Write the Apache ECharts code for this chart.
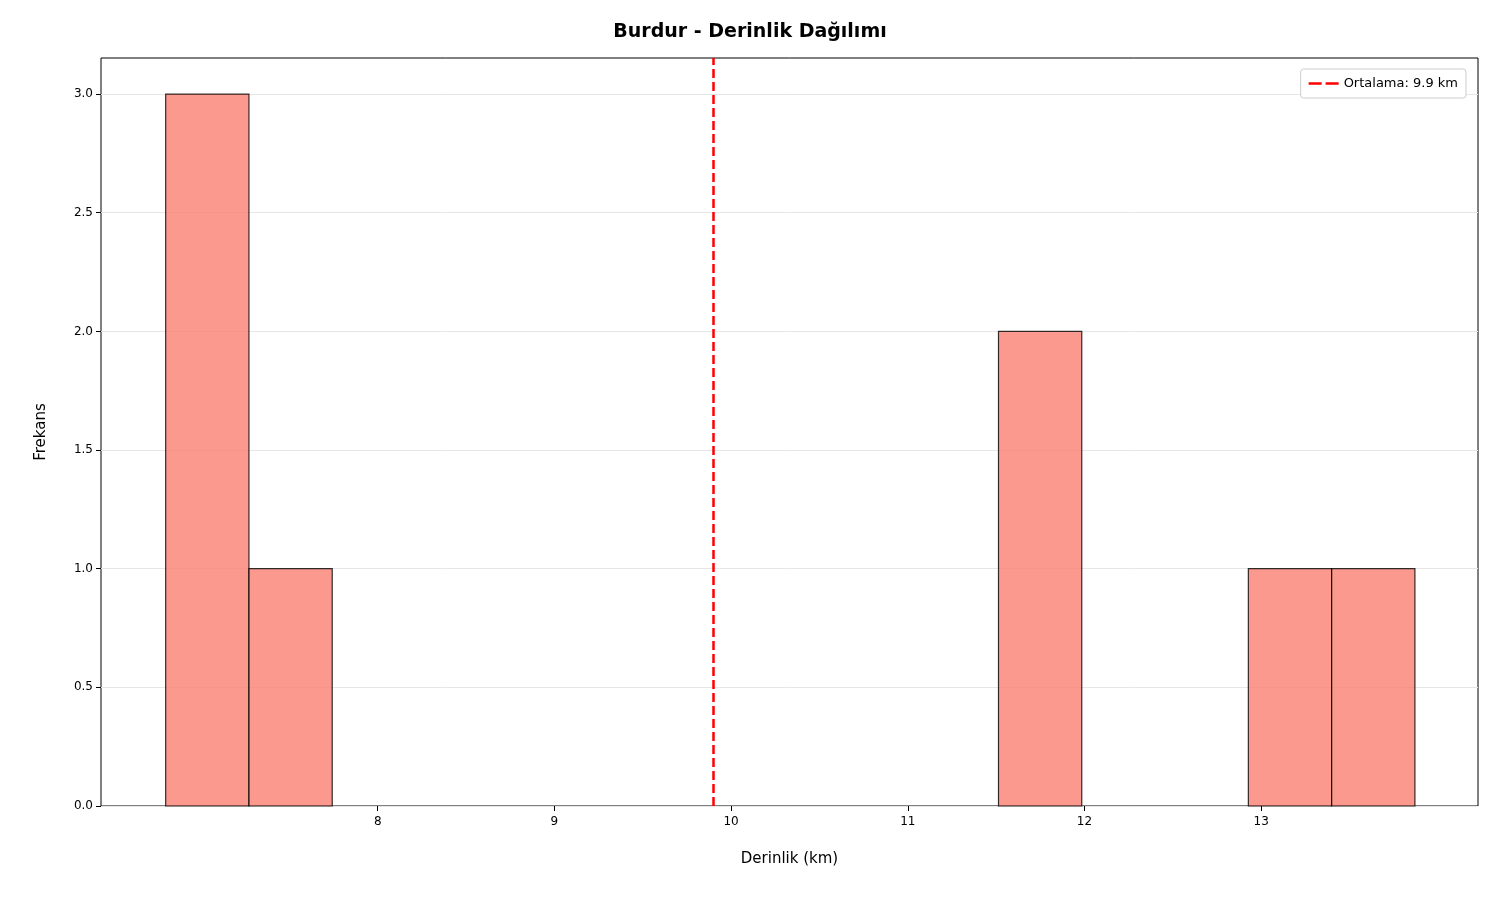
<!DOCTYPE html>
<html><head><meta charset="utf-8">
<script src="https://cdn.jsdelivr.net/npm/echarts@6/dist/echarts.min.js"></script>
<style>html,body{margin:0;padding:0;background:#fff}#c{width:1500px;height:900px}</style>
</head><body><div id="c"></div>
<script>
const binStarts = [6.8, 7.2713, 11.5133, 12.9273, 13.3987];
const binWidth = 0.4713;
const counts = [3, 1, 2, 1, 1];
const meanDepth = 9.9;
const xTicks = [7, 8, 9, 10, 11, 12, 13, 14];
const yTicks = [0, 0.5, 1, 1.5, 2, 2.5, 3];

const data = binStarts.map((s, i) => [s, s + binWidth, counts[i]]);
const chart = echarts.init(document.getElementById('c'));
const font = 'DejaVu Sans';
chart.setOption({
  animation: false,
  textStyle: {fontFamily: font},
  title: {text: 'Burdur - Derinlik Dağılımı', left: 'center', top: 18,
    textStyle: {fontFamily: font, fontSize: 19, fontWeight: 'bold', color: '#000'}},
  grid: {left: 101, right: 22, top: 58, bottom: 94, show: true, borderColor: '#000', borderWidth: 1},
  legend: {right: 34, top: 69, orient: 'vertical', backgroundColor: '#fff', borderColor: '#ccc', borderWidth: 1, borderRadius: 3,
    padding: [8, 8], itemWidth: 30, itemHeight: 10,
    textStyle: {fontFamily: font, fontSize: 13, color: '#000'},
    data: [{name: 'Ortalama: 9.9 km', icon: 'path://M0,4 L10,4 L10,6 L0,6 Z M13,4 L23,4 L23,6 L13,6 Z'}]},
  xAxis: {type: 'value', min: 6.434, max: 14.227, interval: 1,
    name: 'Derinlik (km)', nameLocation: 'middle', nameGap: 46,
    nameTextStyle: {fontSize: 15, color: '#000'},
    axisLine: {show: false}, splitLine: {show: false},
    axisTick: {show: true, length: 5, lineStyle: {color: '#000'}},
    axisLabel: {color: '#000', fontSize: 12, margin: 10, showMinLabel: false, showMaxLabel: false,
      customValues: xTicks},
    axisTick: {show: true, length: 5, lineStyle: {color: '#000'}, customValues: xTicks}},
  yAxis: {type: 'value', min: 0, max: 3.152,
    name: 'Frekans', nameLocation: 'middle', nameGap: 52,
    nameTextStyle: {fontSize: 15, color: '#000'},
    axisLine: {show: false},
    axisTick: {show: true, length: 5, lineStyle: {color: '#000'}, customValues: yTicks},
    axisLabel: {color: '#000', fontSize: 12, formatter: v => v.toFixed(1), customValues: yTicks},
    splitLine: {show: true, lineStyle: {color: '#e6e6e6'}}},
  series: [
    {type: 'custom', name: 'hist', data: data,
      renderItem: (params, api) => {
        const p0 = api.coord([api.value(0), 0]);
        const p1 = api.coord([api.value(1), api.value(2)]);
        return {type: 'rect', shape: {x: p0[0], y: p1[1], width: p1[0] - p0[0], height: p0[1] - p1[1]},
          style: {fill: 'rgba(250,128,114,0.8)', stroke: 'rgba(0,0,0,0.8)', lineWidth: 1.2}};
      }},
    {type: 'line', name: 'Ortalama: 9.9 km', data: [], color: '#ff0000',
      lineStyle: {color: '#ff0000', type: 'dashed', width: 2.5},
      markLine: {symbol: 'none', silent: true, label: {show: false},
        lineStyle: {color: '#ff0000', type: [9, 4], width: 2.5},
        data: [{xAxis: meanDepth}]}}
  ]
});
</script></body></html>
